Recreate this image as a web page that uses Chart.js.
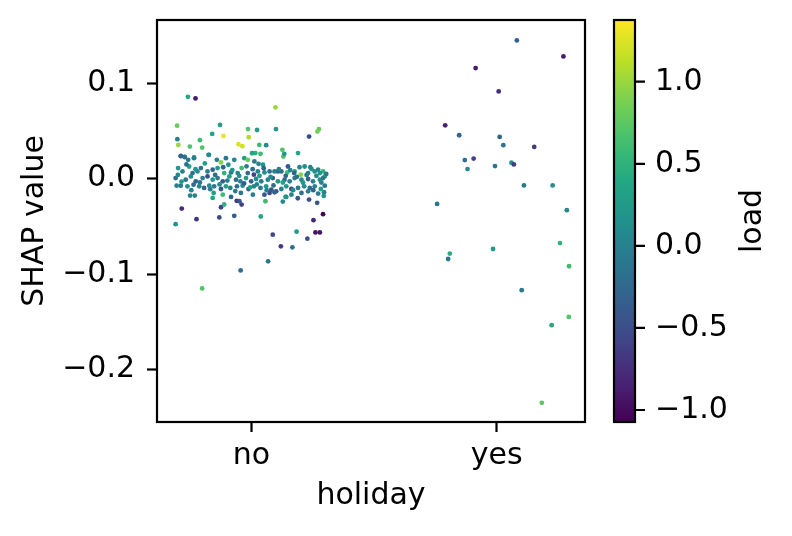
<!DOCTYPE html>
<html>
<head>
<meta charset="utf-8">
<script src="https://cdn.jsdelivr.net/npm/chart.js@4.4.1/dist/chart.umd.min.js"></script>
<style>
  html, body { margin: 0; padding: 0; background: #fff; }
</style>
</head>
<body>
<canvas id="chart" width="792" height="536"></canvas>
<script>
// categories on the x axis
var categories = ['no', 'yes'];
var shapTicks = [-0.2, -0.1, 0.0, 0.1];
var loadTicks = [-1.0, -0.5, 0.0, 0.5, 1.0];
var loadMin = -1.073;
var loadMax = 1.376;

// holiday = no (x is jittered position around 0)
var noX = [
  -0.259, -0.228, 0.098, -0.303, -0.128, -0.014, 0.023, 0.100, 0.275, 0.269,
  -0.302, -0.160, -0.114, -0.011, 0.235, -0.298, -0.251, -0.210, -0.201, -0.053,
  -0.037, 0.032, 0.060, 0.126, 0.190, 0.130, -0.288, -0.272, -0.234, -0.173,
  0.003, 0.016, 0.037, 0.134,
  -0.284, -0.309, -0.224, -0.131, -0.070, -0.124, -0.040, -0.060, 0.038, 0.087,
  0.120, 0.167, 0.184, 0.228, 0.253, 0.292, 0.261, 0.279, 0.068, -0.044,
  -0.201, 0.189, 0.235, 0.268, 0.057, 0.128, 0.139,
  -0.288, -0.272, -0.258, -0.234, -0.175, -0.141, -0.124, -0.104, -0.094, -0.070,
  -0.029, -0.015, 0.003, 0.012, 0.029, 0.047, 0.108, 0.149, 0.176, 0.217,
  0.245, 0.272, 0.292,
  -0.299, -0.281, -0.254, -0.240, -0.220, -0.206, -0.179, -0.158, -0.138, -0.111,
  -0.083, -0.056, -0.040, -0.015, 0.010, 0.026, 0.053, 0.074, 0.094, 0.122,
  0.146, 0.174, 0.201, 0.231, 0.258, 0.279, 0.299,
  -0.309, -0.268, -0.247, -0.227, -0.199, -0.179, -0.158, -0.138, -0.117, -0.090,
  -0.063, -0.045, -0.022, -0.001, 0.019, 0.040, 0.067, 0.087, 0.108, 0.135,
  0.156, 0.176, 0.204, 0.231, 0.251, 0.279, 0.292,
  -0.305, -0.288, -0.261, -0.236, -0.213, -0.193, -0.172, -0.152, -0.124, -0.104,
  -0.086, -0.059, -0.036, -0.012, 0.010, 0.037, 0.060, 0.081, 0.101, 0.122,
  0.142, 0.163, 0.190, 0.215, 0.238, 0.258, 0.283, 0.299,
  -0.250, -0.231, -0.154, -0.117, -0.083, -0.043, 0.006, 0.053, 0.074, 0.094,
  0.142, 0.163, 0.204, 0.231, 0.272, 0.296, -0.158, -0.111, -0.049,
  -0.300, -0.285, -0.265, -0.245, -0.228, -0.210, -0.190, -0.168, -0.148, -0.130,
  -0.115, -0.098, -0.078, -0.066, -0.050, -0.030, -0.020, -0.005, 0.005, 0.022,
  0.033, 0.050, 0.062, 0.078, 0.090, 0.112, 0.128, 0.140, 0.158, 0.170,
  0.185, 0.196, 0.210, 0.225, 0.240, 0.252, 0.265, 0.285, 0.295, 0.305
];
var noShap = [
  0.0857, 0.0841, 0.0747, 0.0555, 0.0563, 0.0520, 0.0510, 0.0520, 0.0518, 0.0493,
  0.0414, 0.0469, 0.0448, 0.0434, 0.0441, 0.0354, 0.0336, 0.0403, 0.0326, 0.0361,
  0.0341, 0.0354, 0.0351, 0.0302, 0.0268, 0.0232, 0.0236, 0.0229, 0.0222, 0.0250,
  0.0268, 0.0268, 0.0260, 0.0260,
  -0.0313, -0.0476, -0.0424, -0.0406, -0.0389, -0.0299, -0.0271, -0.0232, -0.0396, -0.0586,
  -0.0708, -0.0719, -0.0555, -0.0628, -0.0434, -0.0372, -0.0563, -0.0563, -0.0865, -0.0961,
  -0.1149, -0.0205, -0.0219, -0.0253, -0.0236, -0.0240, -0.0190,
  0.0240, 0.0226, 0.0198, 0.0215, 0.0250, 0.0198, 0.0170, 0.0215, 0.0146, 0.0198,
  0.0215, 0.0198, 0.0267, 0.0181, 0.0156, 0.0146, 0.0076, 0.0128, 0.0076, 0.0128,
  0.0101, 0.0094, 0.0076,
  0.0111, 0.0076, 0.0128, 0.0059, 0.0076, 0.0111, 0.0076, 0.0094, 0.0111, 0.0059,
  0.0066, 0.0059, 0.0111, 0.0059, 0.0042, 0.0076, 0.0066, 0.0076, 0.0076, 0.0076,
  0.0066, 0.0059, 0.0042, 0.0059, 0.0076, 0.0059, 0.0024,
  0.0007, -0.0010, 0.0024, -0.0028, 0.0007, 0.0024, -0.0010, 0.0007, -0.0028, 0.0024,
  -0.0010, -0.0028, 0.0007, -0.0028, -0.0003, -0.0028, -0.0010, 0.0007, -0.0028, -0.0010,
  -0.0028, 0.0007, -0.0010, -0.0003, -0.0028, -0.0010, 0.0007,
  -0.0073, -0.0073, -0.0080, -0.0063, -0.0080, -0.0097, -0.0073, -0.0080, -0.0108, -0.0080,
  -0.0097, -0.0080, -0.0073, -0.0108, -0.0080, -0.0097, -0.0080, -0.0115, -0.0132, -0.0108,
  -0.0080, -0.0108, -0.0097, -0.0080, -0.0097, -0.0080, -0.0108, -0.0073,
  -0.0177, -0.0177, -0.0149, -0.0167, -0.0191, -0.0149, -0.0167, -0.0167, -0.0149, -0.0142,
  -0.0191, -0.0167, -0.0149, -0.0132, -0.0156, -0.0142, -0.0201, -0.0270, -0.0236,
  0.0040, -0.0030, 0.0150, -0.0120, 0.0100, -0.0040, 0.0160, -0.0110, 0.0040, -0.0060,
  0.0120, -0.0020, 0.0090, -0.0130, 0.0030, -0.0050, 0.0130, -0.0090, 0.0100, -0.0060,
  0.0030, 0.0110, -0.0120, 0.0020, -0.0070, 0.0100, -0.0040, 0.0030, 0.0090, -0.0120,
  0.0020, 0.0120, -0.0040, 0.0040, 0.0120, -0.0120, 0.0030, -0.0040, -0.0180, 0.0050
];
var noLoad = [
  0.4, -0.9, 1.0, 0.8, 0.3, 0.7, 0.3, 0.2, 0.8, 0.85,
  0.0, 0.35, 1.3, 1.1, -0.5, 1.0, 0.7, 0.6, 0.7, 1.25,
  1.2, 0.6, 0.1, 0.7, 0.35, 0.7, -0.3, -0.2, 0.0, 0.1,
  0.2, 0.5, 0.6, 0.2,
  -0.8, 0.15, -0.7, -0.55, -0.4, -0.6, -0.6, -0.7, 0.35, -0.55,
  -0.65, -0.2, 0.25, -0.5, -0.8, -1.05, -0.95, -0.95, -0.1, -0.2,
  0.7, -0.4, -0.5, -0.4, 0.6, 0.1, 0.2,
  -0.3, -0.2, -0.1, 0.0, 0.1, 0.0, 0.9, -0.1, 0.2, 0.0,
  0.3, 0.8, 0.4, -0.1, 0.0, 0.2, -0.3, -0.4, 0.3, 0.1,
  0.2, 0.0, 0.5,
  0.2, 0.0, 0.4, -0.2, 0.1, -0.1, 0.0, -0.3, 0.2, 0.5,
  -0.1, 0.0, 0.6, -0.2, -0.6, 0.0, 0.1, -0.2, 0.0, -0.2,
  0.6, -0.3, 0.9, 0.0, 0.1, 0.2, 0.3,
  -0.2, -0.1, 0.1, -0.3, 0.0, -0.5, 0.2, -0.1, -0.4, 0.3,
  -0.2, 0.0, 0.2, -0.3, 0.1, -0.1, 0.0, -0.4, 0.2, -0.2,
  0.0, -0.1, 0.1, -0.3, 0.0, 0.2, -0.1,
  0.0, -0.1, 0.1, -0.2, 0.0, -0.3, 0.1, -0.1, -0.4, 0.3,
  0.0, -0.2, 0.1, -0.3, 0.0, -0.1, 0.2, -0.4, -0.5, 0.0,
  0.2, -0.6, -0.1, 0.1, -0.2, 0.0, 0.3, -0.1,
  0.0, 0.0, 0.3, 0.6, -0.3, -0.1, 0.0, -0.4, -0.5, -0.3,
  0.2, 0.0, -0.2, 0.0, -0.1, 0.0, 0.4, 0.5, -0.4,
  0.1, 0.2, -0.2, 0.0, 0.2, -0.1, 0.3, 0.0, -0.2, 0.1,
  -0.3, 0.0, 0.2, -0.1, 0.1, -0.4, 0.0, 0.3, -0.2, 0.0,
  0.2, -0.3, 0.0, 0.1, -0.2, 0.0, 0.3, -0.3, 0.0, 0.1,
  -0.2, 0.0, 0.2, -0.1, 0.0, -0.3, 0.1, 0.0, 0.2, -0.1
];

// holiday = yes (x is jittered position around 1)
var yesX = [1.082, 1.272, 0.914, 1.008, 0.790, 0.847, 1.012, 1.027, 1.153, 0.870,
  0.906, 0.881, 0.993, 1.060, 1.070, 1.111, 1.228, 0.757, 1.286, 1.258,
  0.809, 0.802, 0.985, 1.295, 1.102, 1.294, 1.224, 1.184];
var yesShap = [0.1448, 0.1281, 0.1159, 0.0914, 0.0559, 0.0455, 0.0438, 0.0351, 0.0333, 0.0195,
  0.0211, 0.0101, 0.0132, 0.0167, 0.0149, -0.0070, -0.0070, -0.0264, -0.0330, -0.0674,
  -0.0784, -0.0841, -0.0736, -0.0917, -0.1167, -0.1448, -0.1534, -0.2347];
var yesLoad = [-0.3, -0.9, -0.9, -0.75, -0.85, -0.3, -0.3, -0.15, -0.65, -0.2,
  -0.6, 0.1, -0.1, 0.15, -0.65, -0.05, 0.1, -0.15, 0.05, 0.5,
  0.45, -0.1, 0.25, 0.6, -0.1, 0.7, 0.4, 0.75];

var viridisStops = ['#440154', '#482475', '#414487', '#355f8d', '#2a788e', '#21918c',
  '#22a884', '#44bf70', '#7ad151', '#bddf26', '#fde725'];

function hexToRgb(h) {
  return [parseInt(h.substr(1, 2), 16), parseInt(h.substr(3, 2), 16), parseInt(h.substr(5, 2), 16)];
}

function viridis(v) {
  var t = (v - loadMin) / (loadMax - loadMin);
  t = Math.max(0, Math.min(1, t));
  var pos = t * (viridisStops.length - 1);
  var i = Math.min(Math.floor(pos), viridisStops.length - 2);
  var f = pos - i;
  var a = hexToRgb(viridisStops[i]), b = hexToRgb(viridisStops[i + 1]);
  return 'rgb(' + Math.round(a[0] + (b[0] - a[0]) * f) + ',' + Math.round(a[1] + (b[1] - a[1]) * f) + ',' + Math.round(a[2] + (b[2] - a[2]) * f) + ')';
}

function fmt(v) {
  var s = Math.abs(v).toFixed(1);
  return (v < -1e-9 ? '\u2212' : '') + s;
}

var points = [];
var colors = [];
for (var i = 0; i < noX.length; i++) {
  points.push({x: noX[i], y: noShap[i]});
  colors.push(viridis(noLoad[i]));
}
for (var j = 0; j < yesX.length; j++) {
  points.push({x: yesX[j], y: yesShap[j]});
  colors.push(viridis(yesLoad[j]));
}

var FONT = {family: 'DejaVu Sans', size: 30};

// spines, colorbar and its label
var framePlugin = {
  id: 'frame',
  afterDraw: function(chart) {
    var ctx = chart.ctx;
    var a = chart.chartArea;
    ctx.save();
    ctx.strokeStyle = '#000';
    ctx.lineWidth = 2.2;
    ctx.strokeRect(a.left, a.top, a.right - a.left, a.bottom - a.top);

    var cb = chart.scales.cb;
    var x0 = cb.left + 29, w = 21;
    var grad = ctx.createLinearGradient(0, cb.bottom, 0, cb.top);
    for (var k = 0; k < viridisStops.length; k++) {
      grad.addColorStop(k / (viridisStops.length - 1), viridisStops[k]);
    }
    ctx.fillStyle = grad;
    ctx.fillRect(x0, cb.top, w, cb.bottom - cb.top);
    ctx.strokeRect(x0, cb.top, w, cb.bottom - cb.top);
    ctx.beginPath();
    loadTicks.forEach(function(v) {
      var y = cb.getPixelForValue(v);
      ctx.moveTo(x0 + w, y);
      ctx.lineTo(x0 + w + 10, y);
    });
    ctx.stroke();

    ctx.fillStyle = '#000';
    ctx.font = FONT.size + 'px "DejaVu Sans"';
    ctx.textAlign = 'center';
    ctx.textBaseline = 'middle';
    ctx.translate(753, (cb.top + cb.bottom) / 2);
    ctx.rotate(-Math.PI / 2);
    ctx.fillText('load', 0, 0);
    ctx.restore();
  }
};

function noEdgePadding(s) {
  s.paddingTop = 0;
  s.paddingBottom = 0;
}

var ctx = document.getElementById('chart').getContext('2d');
new Chart(ctx, {
  type: 'scatter',
  data: {
    datasets: [{
      data: points,
      pointRadius: 2.4,
      pointHoverRadius: 2.4,
      pointBorderWidth: 0,
      pointBackgroundColor: colors
    }]
  },
  options: {
    responsive: false,
    animation: false,
    devicePixelRatio: 1,
    layout: {padding: {top: 20, left: 0, right: 0, bottom: 0}},
    plugins: {legend: {display: false}, tooltip: {enabled: false}},
    scales: {
      x: {
        type: 'linear',
        min: -0.385,
        max: 1.36,
        afterFit: function(s) { s.height = 114; s.paddingLeft = 0; s.paddingRight = 0; },
        afterBuildTicks: function(s) { s.ticks = categories.map(function(c, i) { return {value: i}; }); },
        ticks: {
          callback: function(v, i) { return categories[i]; },
          font: FONT, color: '#000', padding: 6, maxRotation: 0, autoSkip: false
        },
        grid: {drawOnChartArea: false, tickLength: 10, tickWidth: 2.2, tickColor: '#000'},
        border: {display: false},
        title: {display: true, text: 'holiday', font: FONT, color: '#000', padding: {top: 0, bottom: 22}}
      },
      y: {
        min: -0.2548,
        max: 0.1662,
        afterFit: function(s) { s.width = 157; noEdgePadding(s); },
        afterBuildTicks: function(s) { s.ticks = shapTicks.map(function(v) { return {value: v}; }); },
        ticks: {callback: function(v) { return fmt(v); }, font: FONT, color: '#000', padding: 12},
        grid: {drawOnChartArea: false, tickLength: 10, tickWidth: 2.2, tickColor: '#000'},
        border: {display: false},
        title: {display: true, text: 'SHAP value', font: FONT, color: '#000', padding: {top: 17, bottom: 0}}
      },
      cb: {
        type: 'linear',
        position: 'right',
        min: loadMin,
        max: loadMax,
        afterFit: function(s) { s.width = 207; noEdgePadding(s); },
        afterBuildTicks: function(s) { s.ticks = loadTicks.map(function(v) { return {value: v}; }); },
        ticks: {callback: function(v) { return fmt(v); }, font: FONT, color: '#000', padding: 70},
        grid: {drawOnChartArea: false, drawTicks: false},
        border: {display: false}
      }
    }
  },
  plugins: [framePlugin]
});
</script>
</body>
</html>
